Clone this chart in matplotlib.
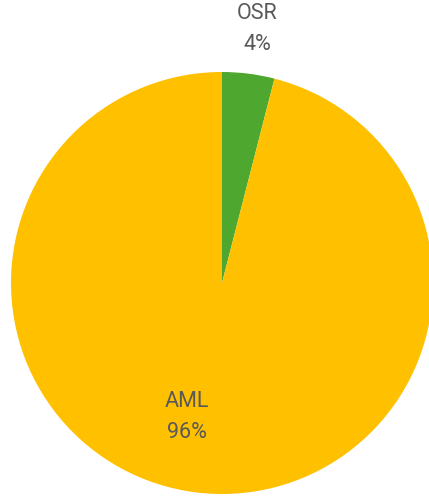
import matplotlib
matplotlib.use("Agg")
import matplotlib.pyplot as plt

categories = ["OSR", "AML"]
shares = [4, 96]
colors = ["#4EA72E", "#FFC000"]

W, H = 429, 497
fig = plt.figure(figsize=(W / 100, H / 100), dpi=100)
ax = fig.add_axes([0, 0, 1, 1])

cx, cy, r = 222, H - 283, 211
ax.pie(shares, colors=colors, startangle=90, counterclock=False,
       center=(cx, cy), radius=r, frame=True,
       wedgeprops=dict(linewidth=0))
ax.set_xlim(0, W)
ax.set_ylim(0, H)
ax.set_aspect("equal")
ax.axis("off")

label_pos = {"OSR": (257, H - 29), "AML": (187, H - 417)}
for name, val in zip(categories, shares):
    x, y = label_pos[name]
    ax.text(x, y, f"{name}\n{val}%", ha="center", va="center",
            fontsize=15.5, color="#595959", family="Roboto", linespacing=1.6)

fig.savefig("out.png", dpi=100)
